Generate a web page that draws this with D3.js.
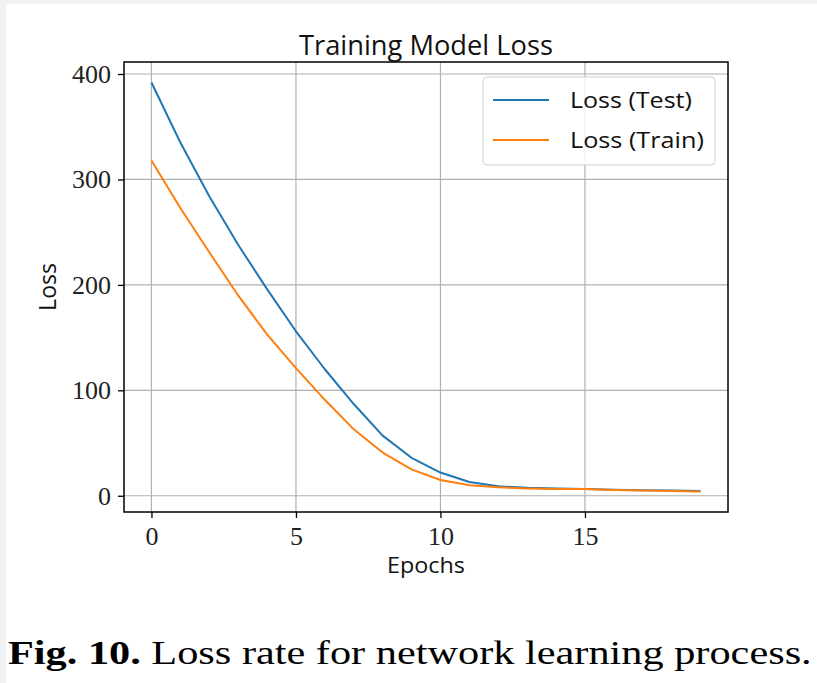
<!DOCTYPE html>
<html>
<head>
<meta charset="utf-8">
<script src="https://cdnjs.cloudflare.com/ajax/libs/d3/7.8.5/d3.min.js"></script>
<style>
  body { margin: 0; background: #f2f2f2; }
  svg { display: block; }
</style>
</head>
<body>
<div id="chart"></div>
<script>
// epochs and loss values
var epochs = d3.range(0, 20);
var lossTest = [392, 335, 284, 238, 196, 156, 120, 87, 57, 36, 22, 13, 9, 7.5, 7, 6.5, 5.8, 5.3, 5, 4.5];
var lossTrain = [318, 273, 231, 190, 153, 121, 91, 63, 41, 25, 15, 10, 8, 7, 6.5, 6.5, 5.5, 5, 4.5, 4];
var xTicks = [0, 5, 10, 15];
var yTicks = [0, 100, 200, 300, 400];
var seriesNames = ["Loss (Test)", "Loss (Train)"];
var seriesColors = ["#1f77b4", "#ff7f0e"];

var W = 817, H = 683;
var margin = {top: 62, right: 89, bottom: 171, left: 124},
    width = W - margin.left - margin.right,
    height = H - margin.top - margin.bottom;

var sans = "'Open Sans', Lato, sans-serif";
var serif = "'Liberation Serif', 'DejaVu Serif', serif";

var svg = d3.select("#chart").append("svg")
    .attr("width", W)
    .attr("height", H);

// white page area
svg.append("rect")
    .attr("x", 6).attr("y", 4)
    .attr("width", W - 6).attr("height", H - 4)
    .attr("fill", "#ffffff");

var g = svg.append("g")
    .attr("transform", "translate(" + margin.left + "," + margin.top + ")");

// matplotlib-like 5% margins
var x = d3.scaleLinear().domain([-0.95, 19.95]).range([0, width]);
var y = d3.scaleLinear().domain([-15.4, 411.4]).range([height, 0]);

// stretch a text horizontally to a target width (the figure uses LaTeX fonts)
function fitWidth(sel, target) {
  var w = sel.node().getComputedTextLength();
  var k = target / w;
  var ax = +sel.attr("x") || 0, ay = +sel.attr("y") || 0;
  sel.attr("transform", "translate(" + ax + "," + ay + ") scale(" + k + ",1) translate(" + (-ax) + "," + (-ay) + ")");
}

// grid
g.append("g")
    .selectAll("line")
    .data(xTicks)
  .enter().append("line")
    .attr("x1", function(d) { return x(d); })
    .attr("x2", function(d) { return x(d); })
    .attr("y1", 0).attr("y2", height)
    .attr("stroke", "#b0b0b0").attr("stroke-width", 1.2);

g.append("g")
    .selectAll("line")
    .data(yTicks)
  .enter().append("line")
    .attr("y1", function(d) { return y(d); })
    .attr("y2", function(d) { return y(d); })
    .attr("x1", 0).attr("x2", width)
    .attr("stroke", "#b0b0b0").attr("stroke-width", 1.2);

// lines
var line = d3.line()
    .x(function(d, i) { return x(epochs[i]); })
    .y(function(d) { return y(d); });

[lossTest, lossTrain].forEach(function(vals, i) {
  g.append("path")
      .datum(vals)
      .attr("fill", "none")
      .attr("stroke", seriesColors[i])
      .attr("stroke-width", 2)
      .attr("stroke-linejoin", "round")
      .attr("d", line);
});

// axes
var xAxis = g.append("g")
    .attr("transform", "translate(0," + height + ")")
    .call(d3.axisBottom(x).tickValues(xTicks).tickSize(6).tickPadding(9).tickSizeOuter(0));
var yAxis = g.append("g")
    .call(d3.axisLeft(y).tickValues(yTicks).tickSize(6).tickPadding(7).tickSizeOuter(0));

[xAxis, yAxis].forEach(function(a) {
  a.select(".domain").remove();
  a.selectAll(".tick line").attr("stroke", "#000").attr("stroke-width", 1.3);
  a.selectAll(".tick text")
      .attr("fill", "#222")
      .style("font-family", serif)
      .style("font-size", "26px");
});

// frame
g.append("rect")
    .attr("width", width).attr("height", height)
    .attr("fill", "none")
    .attr("stroke", "#000").attr("stroke-width", 1.5);

// title
svg.append("text")
    .attr("x", margin.left + width / 2)
    .attr("y", 55)
    .attr("text-anchor", "middle")
    .style("font-family", sans)
    .style("font-size", "27px")
    .attr("fill", "#111")
    .text("Training Model Loss")
    .call(fitWidth, 254);

// axis labels
svg.append("text")
    .attr("x", margin.left + width / 2)
    .attr("y", 573)
    .attr("text-anchor", "middle")
    .style("font-family", sans)
    .style("font-size", "22px")
    .attr("fill", "#111")
    .text("Epochs")
    .call(fitWidth, 78);

svg.append("text")
    .attr("transform", "translate(56," + 287 + ") rotate(-90)")
    .attr("text-anchor", "middle")
    .style("font-family", sans)
    .style("font-size", "23px")
    .attr("fill", "#111")
    .text("Loss");

// legend
var legend = g.append("g")
    .attr("transform", "translate(" + (483 - margin.left) + "," + (77 - margin.top) + ")");
legend.append("rect")
    .attr("width", 232).attr("height", 88)
    .attr("rx", 4)
    .attr("fill", "#fff").attr("fill-opacity", 0.8)
    .attr("stroke", "#d0d0d0");
seriesNames.forEach(function(name, i) {
  var ly = 23 + i * 40;
  legend.append("line")
      .attr("x1", 10).attr("x2", 66)
      .attr("y1", ly).attr("y2", ly)
      .attr("stroke", seriesColors[i]).attr("stroke-width", 2);
  legend.append("text")
      .attr("x", 87).attr("y", ly + 8)
      .style("font-family", sans)
      .style("font-size", "22px")
      .attr("fill", "#111")
      .text(name)
      .call(fitWidth, i == 0 ? 122 : 134);
});

// caption
var cap = svg.append("text")
    .attr("x", 8)
    .attr("y", 664)
    .style("font-family", serif)
    .style("font-size", "33px")
    .attr("fill", "#000");
cap.append("tspan").style("font-weight", "bold").text("Fig. 10.");
cap.append("tspan").text(" Loss rate for network learning process.");
cap.call(fitWidth, 804);
</script>
</body>
</html>
